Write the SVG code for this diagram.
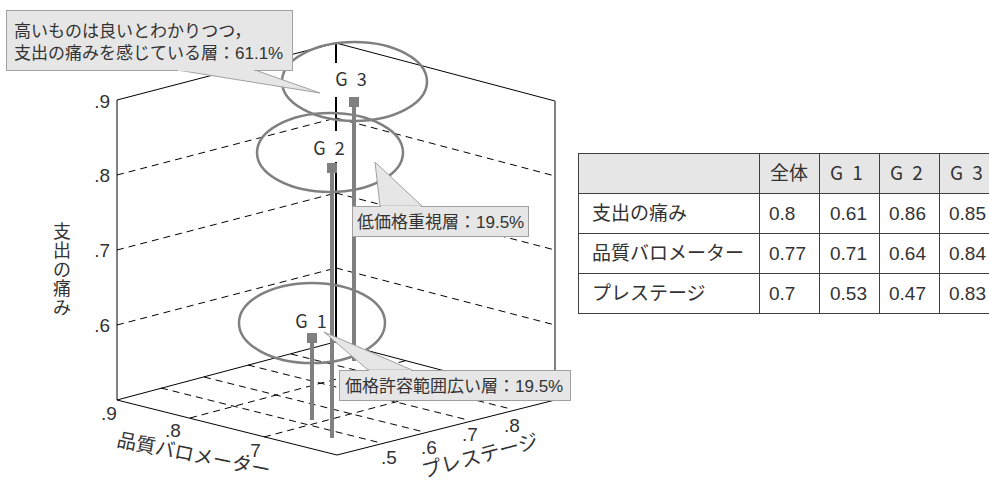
<svg xmlns="http://www.w3.org/2000/svg" width="989" height="481" viewBox="0 0 989 481">
<style>
.edge{stroke:#000;stroke-width:1;fill:none}
.axis{stroke:#808080;stroke-width:2;fill:none}
.dash{stroke:#000;stroke-width:1;stroke-dasharray:7 5;fill:none}
.ell{stroke:#808080;stroke-width:2.5;fill:none}
.stem{stroke:#808080;stroke-width:4}
.sq{fill:#808080}
.num{font-family:"Liberation Sans",Arial,sans-serif;font-size:19px;fill:#333}
.jp{font-family:"Liberation Sans","Noto Sans CJK JP",sans-serif;fill:#333}
.g{font-family:"Noto Sans CJK JP","Noto Sans",sans-serif;font-size:18px;fill:#333;word-spacing:5px}
.call{fill:#e6e6e6;stroke:#a0a0a0;stroke-width:1}
.tb{stroke:#404040;stroke-width:1;fill:none}
.tt{font-family:"Liberation Sans","Noto Sans CJK JP",sans-serif;font-size:19px;fill:#333}
.th{font-family:"Noto Sans CJK JP","Noto Sans",sans-serif;font-size:19px;fill:#333;word-spacing:5px}
</style>
<rect width="989" height="481" fill="#fff"/>
<g id="chart-frame">
  <line class="axis" x1="117" y1="100" x2="117" y2="400"/>
  <line class="edge" x1="117" y1="100" x2="336" y2="43"/>
  <line class="dash" x1="117" y1="175" x2="336" y2="118"/>
  <line class="dash" x1="117" y1="250" x2="336" y2="193"/>
  <line class="dash" x1="117" y1="325" x2="336" y2="268"/>
  <line class="edge" x1="336" y1="43" x2="555" y2="101"/>
  <line class="axis" x1="555" y1="101" x2="555" y2="400"/>
  <line class="dash" x1="336" y1="118" x2="555" y2="176"/>
  <line class="dash" x1="336" y1="193" x2="555" y2="250"/>
  <line class="dash" x1="336" y1="268" x2="555" y2="325"/>
  <polygon class="edge" points="117,400 335,342 555,400 337,455"/>
  <line class="dash" x1="161" y1="388" x2="381" y2="443"/>
  <line class="dash" x1="204" y1="377" x2="424" y2="432"/>
  <line class="dash" x1="248" y1="365" x2="468" y2="420"/>
  <line class="dash" x1="291" y1="354" x2="511" y2="409"/>
  <line class="dash" x1="190" y1="418" x2="408" y2="360"/>
  <line class="dash" x1="264" y1="437" x2="482" y2="379"/>
  <line x1="336" y1="43" x2="336" y2="342" stroke="#000" stroke-width="2"/>
  <text class="num" x="110" y="108" text-anchor="end">.9</text>
  <text class="num" x="110" y="182" text-anchor="end">.8</text>
  <text class="num" x="110" y="257" text-anchor="end">.7</text>
  <text class="num" x="110" y="332" text-anchor="end">.6</text>
  <text class="num" x="109" y="420" text-anchor="middle">.9</text>
  <text class="num" x="173" y="437" text-anchor="middle">.8</text>
  <text class="num" x="253" y="457" text-anchor="middle">.7</text>
  <text class="num" x="389" y="464" text-anchor="middle">.5</text>
  <text class="num" x="429" y="454" text-anchor="middle">.6</text>
  <text class="num" x="470" y="441" text-anchor="middle">.7</text>
  <text class="num" x="512" y="432" text-anchor="middle">.8</text>
  <text class="jp" font-size="18" text-anchor="middle">
    <tspan x="62" y="238">支</tspan><tspan x="62" y="257">出</tspan><tspan x="62" y="276">の</tspan><tspan x="62" y="295">痛</tspan><tspan x="62" y="314">み</tspan>
  </text>
  <text class="jp" font-size="19.5" x="116" y="446" transform="rotate(11.5 116 446)">品質バロメーター</text>
  <text class="jp" font-size="20" x="424" y="478" transform="rotate(-15 424 478)">プレステージ</text>
</g>
<g id="connectors">
  <line class="stem" x1="354" y1="102" x2="354" y2="361"/>
  <line class="stem" x1="332" y1="168" x2="332" y2="438"/>
  <line class="stem" x1="312" y1="338" x2="312" y2="420"/>
</g>
<g id="G3">
  <ellipse class="ell" cx="354.5" cy="81.5" rx="72.5" ry="39.5"/>
  <rect x="331" y="63" width="40" height="34" fill="#fff"/>
  <text class="g" x="351" y="86" text-anchor="middle">G 3</text>
  <rect class="sq" x="349" y="97" width="10" height="10"/>
</g>
<g id="G2">
  <ellipse class="ell" cx="330" cy="152.5" rx="73" ry="39.5"/>
  <rect x="310" y="131" width="40" height="31" fill="#fff"/>
  <text class="g" x="329" y="155" text-anchor="middle">G 2</text>
  <rect class="sq" x="327" y="163" width="10" height="10"/>
</g>
<g id="G1">
  <ellipse class="ell" cx="312" cy="323" rx="73" ry="40"/>
  <text class="g" x="311" y="328" text-anchor="middle">G 1</text>
  <rect class="sq" x="307" y="333" width="10" height="10"/>
</g>
<g id="callout-G3">
  <polygon class="call" points="177,70 320,93 255,70"/>
  <rect class="call" x="6.5" y="10.5" width="286" height="60"/>
  <line x1="178" y1="70.5" x2="254" y2="70.5" stroke="#e6e6e6" stroke-width="1.5"/>
  <text class="jp" font-size="17"><tspan x="14" y="37">高いものは良いとわかりつつ，</tspan><tspan x="14" y="59">支出の痛みを感じている層：61.1%</tspan></text>
</g>
<g id="callout-G2">
  <polygon class="call" points="375,162 380,206 422,206"/>
  <rect class="call" x="352.5" y="206.5" width="176" height="30"/>
  <line x1="381" y1="206.5" x2="421" y2="206.5" stroke="#e6e6e6" stroke-width="1.5"/>
  <text class="jp" font-size="17" x="357" y="228">低価格重視層：19.5%</text>
</g>
<g id="callout-G1">
  <polygon class="call" points="324,332 368,370 412,370"/>
  <rect class="call" x="339.5" y="370.5" width="231" height="30"/>
  <line x1="369" y1="370.5" x2="411" y2="370.5" stroke="#e6e6e6" stroke-width="1.5"/>
  <text class="jp" font-size="17" x="345" y="392">価格許容範囲広い層：19.5%</text>
</g>
<g id="table">
  <rect x="578.5" y="153.5" width="422" height="40" fill="#e6e6e6"/>
  <rect class="tb" x="578.5" y="153.5" width="422" height="160"/>
  <line class="tb" x1="578.5" y1="193.5" x2="1000" y2="193.5"/>
  <line class="tb" x1="578.5" y1="233.5" x2="1000" y2="233.5"/>
  <line class="tb" x1="578.5" y1="273.5" x2="1000" y2="273.5"/>
  <line class="tb" x1="759.5" y1="153.5" x2="759.5" y2="313.5"/>
  <line class="tb" x1="819.5" y1="153.5" x2="819.5" y2="313.5"/>
  <line class="tb" x1="879.5" y1="153.5" x2="879.5" y2="313.5"/>
  <line class="tb" x1="939.5" y1="153.5" x2="939.5" y2="313.5"/>
  <text class="th" x="770" y="180">全体</text>
  <text class="th" x="830" y="180">G 1</text>
  <text class="th" x="890" y="180">G 2</text>
  <text class="th" x="950" y="180">G 3</text>
  <text class="tt" x="592" y="220">支出の痛み</text>
  <text class="tt" x="592" y="260">品質バロメーター</text>
  <text class="tt" x="592" y="300">プレステージ</text>
  <text class="tt" x="769" y="220">0.8</text>
  <text class="tt" x="830" y="220">0.61</text>
  <text class="tt" x="889" y="220">0.86</text>
  <text class="tt" x="949" y="220">0.85</text>
  <text class="tt" x="769" y="260">0.77</text>
  <text class="tt" x="830" y="260">0.71</text>
  <text class="tt" x="889" y="260">0.64</text>
  <text class="tt" x="949" y="260">0.84</text>
  <text class="tt" x="769" y="300">0.7</text>
  <text class="tt" x="830" y="300">0.53</text>
  <text class="tt" x="889" y="300">0.47</text>
  <text class="tt" x="949" y="300">0.83</text>
</g>
</svg>
